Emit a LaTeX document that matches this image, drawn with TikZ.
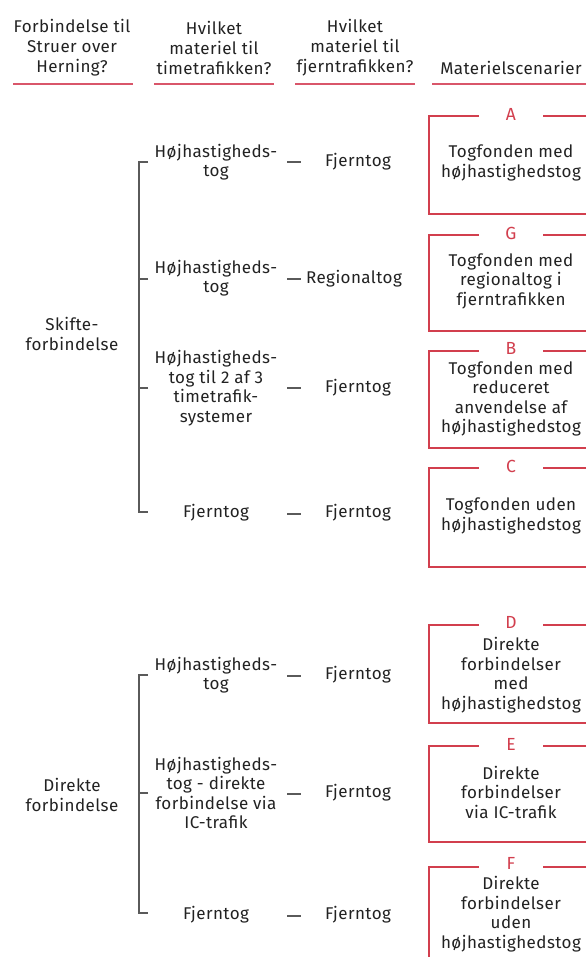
\documentclass[tikz,border=0pt]{standalone}
\usepackage{fontspec}
\setmainfont[LetterSpace=2.5]{Fira Sans}
\usepackage{xcolor}
\definecolor{TogRed}{HTML}{D23F4E}
\definecolor{TogRule}{HTML}{D9566A}
\definecolor{TogGray}{HTML}{5A5A5A}
\definecolor{TogText}{HTML}{222222}
\usepackage{tikz}
\usetikzlibrary{positioning}

\begin{document}
\begin{tikzpicture}[
  x=1pt,y=-1pt,
  head/.style={align=center,text=TogText,inner sep=0pt,font=\fontsize{17}{20}\selectfont},
  item/.style={align=center,text=TogText,inner sep=0pt,font=\fontsize{17}{19.5}\selectfont},
  letter/.style={fill=white,text=TogRed,minimum width=64pt,text height=11pt,text depth=0pt,inner sep=0pt,font=\fontsize{17.5}{19}\selectfont},
  scen/.style={draw=TogRed,line width=1.4pt},
  hrule/.style={draw=TogRule,line width=2pt},
  brk/.style={draw=TogGray,line width=1.6pt},
  dashline/.style={draw=TogGray,line width=1.4pt}
]
  \useasboundingbox[fill=white] (0,0) rectangle (586,957);
  % headings
  \node[head] (h1) at (72,48) {Forbindelse til\\Struer over\\Herning?};
  \node[head] (h2) at (214,48) {Hvilket\\materiel til\\timetrafikken?};
  \node[head] (h3) at (355,48) {Hvilket\\materiel til\\fjerntrafikken?};
  \node[head] (h4) at (511,68) {Materielscenarier};
  \draw[hrule] (13,84) -- (133,84);
  \draw[hrule] (154,84) -- (274,84);
  \draw[hrule] (295,84) -- (415,84);
  \draw[hrule] (432,84) -- (586,84);

  % skifteforbindelse
  \node[item] (skift) at (72,334) {Skifte-\\forbindelse};
  \node[item] (tA) at (216,162) {Højhastigheds-\\tog};
  \node[item] (tG) at (216,278) {Højhastigheds-\\tog};
  \node[item] (tB) at (216,388) {Højhastigheds-\\tog til 2 af 3\\timetrafik-\\systemer};
  \node[item] (tC) at (216,513) {Fjerntog};
  \node[item] (fA) at (358,162) {Fjerntog};
  \node[item] (fG) at (354,279) {Regionaltog};
  \node[item] (fB) at (358,388) {Fjerntog};
  \node[item] (fC) at (358,513) {Fjerntog};
  \coordinate (s1) at (148,162);
  \coordinate (s2) at (148,279);
  \coordinate (s3) at (148,388);
  \coordinate (s4) at (148,512);
  \draw[brk] (s1) -- ++(-9,0) |- (s4);
  \draw[brk] (s2) -- ++(-9,0);
  \draw[brk] (s3) -- ++(-9,0);
  \draw[dashline] (287,162) -- (301,162);
  \draw[dashline] (287,279) -- (301,279);
  \draw[dashline] (287,388) -- (301,388);
  \draw[dashline] (287,514) -- (301,514);

  % direkte forbindelse
  \node[item] (dir) at (72,795) {Direkte\\forbindelse};
  \node[item] (tD) at (216,675) {Højhastigheds-\\tog};
  \node[item] (tE) at (216,793) {Højhastigheds-\\tog - direkte\\forbindelse via\\IC-trafik};
  \node[item] (tF) at (216,915) {Fjerntog};
  \node[item] (fD) at (358,675) {Fjerntog};
  \node[item] (fE) at (358,793) {Fjerntog};
  \node[item] (fF) at (358,915) {Fjerntog};
  \coordinate (d1) at (148,675);
  \coordinate (d2) at (148,793);
  \coordinate (d3) at (148,913);
  \draw[brk] (d1) -- ++(-9,0) |- (d3);
  \draw[brk] (d2) -- ++(-9,0);
  \draw[dashline] (287,676) -- (301,676);
  \draw[dashline] (287,794) -- (301,794);
  \draw[dashline] (287,916) -- (301,916);

  % materielscenarier
  \draw[scen] (586,116) -| (429,214) -- (586,214);
  \draw[scen] (586,235) -| (429,331) -- (586,331);
  \draw[scen] (586,351) -| (429,448) -- (586,448);
  \draw[scen] (586,468) -| (429,567) -- (586,567);
  \draw[scen] (586,625) -| (429,723) -- (586,723);
  \draw[scen] (586,746) -| (429,842) -- (586,842);
  \draw[scen] (586,867) -| (429,957);
  \node[letter] (lA) at (511,115) {A};
  \node[letter] (lG) at (511,234) {G};
  \node[letter] (lB) at (511,349) {B};
  \node[letter] (lC) at (511,467) {C};
  \node[letter] (lD) at (511,623) {D};
  \node[letter] (lE) at (511,745) {E};
  \node[letter] (lF) at (511,864) {F};
  \node[item] (cA) at (511,163) {Togfonden med\\højhastighedstog};
  \node[item] (cG) at (511,281) {Togfonden med\\regionaltog i\\fjerntrafikken};
  \node[item] (cB) at (511,399) {Togfonden med\\reduceret\\anvendelse af\\højhastighedstog};
  \node[item] (cC) at (511,516) {Togfonden uden\\højhastighedstog};
  \node[item] (cD) at (511,675) {Direkte\\forbindelser\\med\\højhastighedstog};
  \node[item] (cE) at (511,792) {Direkte\\forbindelser\\via IC-trafik};
  \node[item] (cF) at (511,914) {Direkte\\forbindelser\\uden\\højhastighedstog};
\end{tikzpicture}
\end{document}
